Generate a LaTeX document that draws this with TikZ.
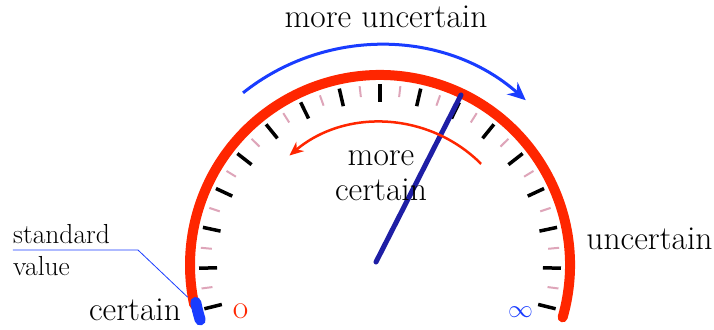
\documentclass[tikz,border=0pt]{standalone}
\usetikzlibrary{arrows.meta, calc}
\definecolor{gaugered}{RGB}{255,38,0}
\definecolor{gaugeblue}{RGB}{25,60,255}
\definecolor{needleblue}{RGB}{30,30,165}
\definecolor{tickpink}{RGB}{222,165,185}

\begin{document}
\begin{tikzpicture}[
        x=1pt, y=1pt,
        font=\fontsize{33.5}{35}\selectfont,
        rim/.style={gaugered, line width=10pt, line cap=round},
        major/.style={black, line width=3.5pt},
        minor/.style={tickpink, line width=2pt},
        needle/.style={needleblue, line width=5pt, line cap=round},
        sweep/.style={-{Stealth[length=18pt, width=16pt]}, line width=3pt},
        leader/.style={gaugeblue, line width=0.8pt},
        txt/.style={inner sep=0pt, anchor=base}
    ]
    \useasboundingbox (-380,-64) rectangle (334,265);
    % Dial
    \draw[rim] (-16:190) arc[start angle=-16, end angle=192, radius=190];
    \draw[gaugeblue, line width=11pt, line cap=round] (191.5:188) arc[start angle=191.5, end angle=197, radius=188];
    \foreach \a in {-14,-1,...,194}
        \draw[major] (\a:163) -- (\a:181);
    \foreach \a in {-7.5,5.5,...,187.5}
        \draw[minor] (\a:169) -- (\a:180);

    % Needle
    \coordinate (pivot) at (-4,3);
    \coordinate (tip) at (81,170);
    \draw[needle] (pivot) -- (tip);

    % Arrows
    \draw[sweep, gaugeblue] (128.5:220) arc[start angle=128.5, end angle=48.5, radius=220];
    \draw[gaugered, line width=2.5pt, -{Stealth[length=14pt, width=12pt]}] (45:143) arc[start angle=45, end angle=130, radius=142];

    % Nodes
    \node[txt] (moreunc) at (6,237) {more uncertain};
    \node[align=center, inner sep=0pt] (morecert) at (1,89) {more\\certain};
    \node[txt] (unc) at (269.5,15) {uncertain};
    \node[txt] (cert) at (-245,-55) {certain};
    \node[txt, text=gaugered] (zero) at (-139.5,-53) {o};
    \node[text=gaugeblue, inner sep=0pt] (inf) at (140.5,-47.5) {$\infty$};
    \node[align=left, inner sep=0pt, anchor=west, font=\fontsize{27.5}{32}\selectfont] (std) at (-367,15) {standard\\value};

    % Leader to standard value
    \coordinate (knee) at (-242,13);
    \coordinate (cap) at (189.5:195);
    \draw[leader] (std.west) -- (std.west -| knee) -- (cap);
\end{tikzpicture}
\end{document}
